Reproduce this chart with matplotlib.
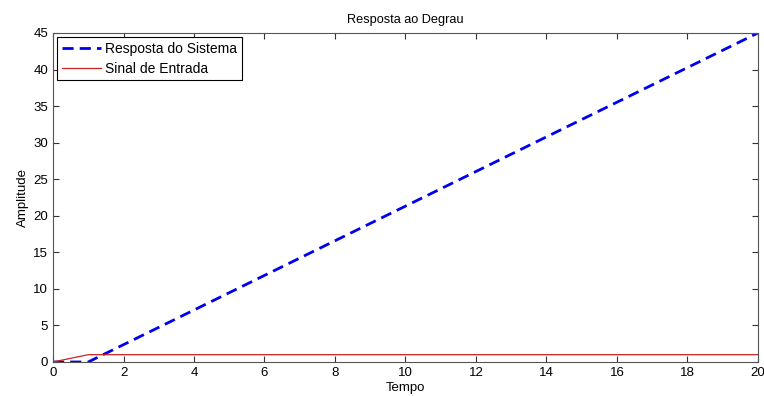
import matplotlib
matplotlib.use('Agg')
import matplotlib.pyplot as plt

# Dados
t_resp = [0, 1, 20]
y_resp = [0, 0, 45]
t_in = [0, 1, 20]
y_in = [0, 1, 1]
xticks = [0, 2, 4, 6, 8, 10, 12, 14, 16, 18, 20]
yticks = [0, 5, 10, 15, 20, 25, 30, 35, 40, 45]

plt.rcParams['font.family'] = ['Liberation Sans', 'DejaVu Sans']
plt.rcParams['font.size'] = 9.5

fig = plt.figure(figsize=(7.64, 3.96), dpi=100)
ax = fig.add_axes([0.0694, 0.0859, 0.9226, 0.8308])

ax.plot(t_resp, y_resp, '--', color='#0000ee', lw=2, dashes=(4, 2.2), label='Resposta do Sistema')
ax.plot(t_in, y_in, '-', color='#cc2222', lw=0.9, label='Sinal de Entrada')

ax.set_xlim(0, 20)
ax.set_ylim(0, 45)
ax.set_xticks(xticks)
ax.set_yticks(yticks)
ax.tick_params(direction='in', top=True, right=True, length=4, width=0.8, pad=3.5,
               colors='#333333', labelcolor='black')
for s in ax.spines.values():
    s.set_color('#555555')

ax.set_title('Resposta ao Degrau', fontsize=9.2, pad=7)
ax.set_xlabel('Tempo', labelpad=2)
ax.set_ylabel('Amplitude', labelpad=3)

leg = ax.legend(loc='upper left', fancybox=False, framealpha=1, edgecolor='black',
                fontsize=10, handlelength=2.8, borderpad=0.35, labelspacing=0.4,
                borderaxespad=0.3, handletextpad=0.3)
leg.get_frame().set_linewidth(0.8)

fig.savefig('out.png', dpi=100)
